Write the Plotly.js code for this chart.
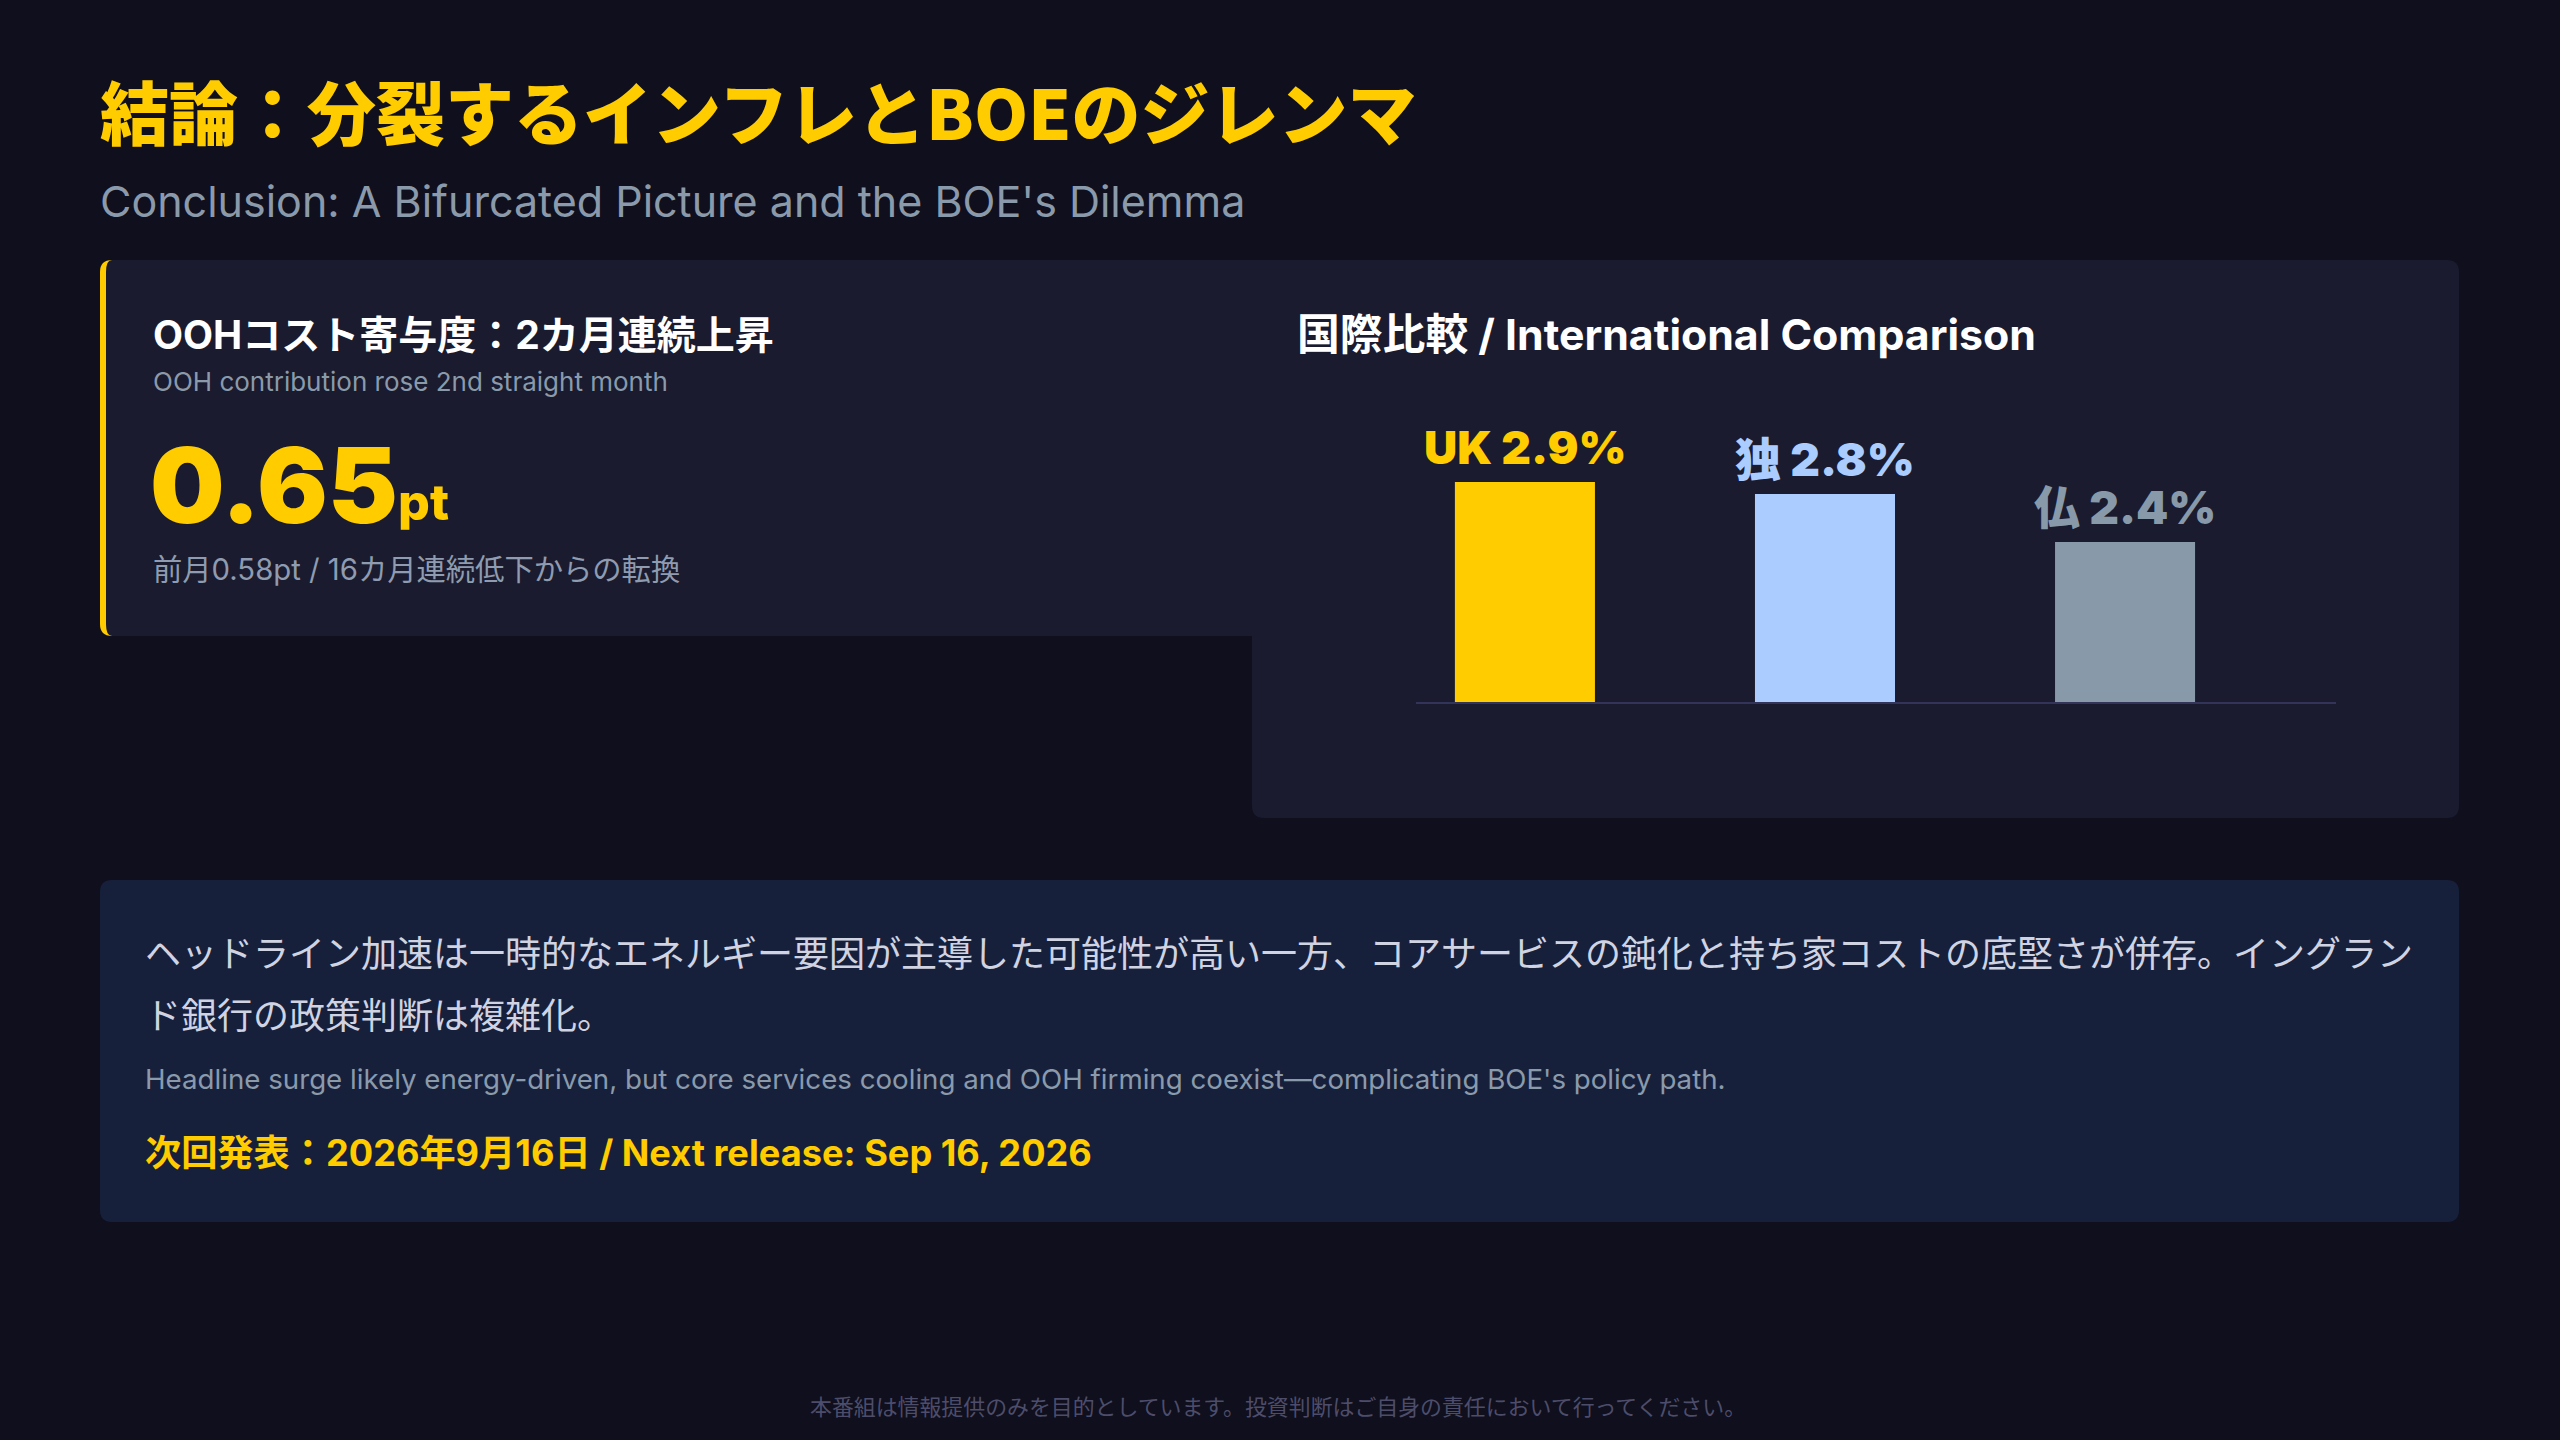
<!DOCTYPE html>
<html>
<head>
<meta charset="utf-8">
<script src="https://cdn.plot.ly/plotly-3.0.1.min.js"></script>
<style>
  html, body { margin: 0; padding: 0; background: #0f0f1d; }
  #chart { width: 2560px; height: 1440px; }
</style>
</head>
<body>
<div id="chart"></div>
<script>
// ---- data ----
const countries = ['UK', '独', '仏'];
const cpiValues = [2.9, 2.8, 2.4];
const barColors = ['#ffcc00', '#aaccff', '#8899aa'];

const titleJa = '結論：分裂するインフレとBOEのジレンマ';
const titleEn = 'Conclusion: A Bifurcated Picture and the BOE\'s Dilemma';
const kpiHeading = 'OOHコスト寄与度：2カ月連続上昇';
const kpiSub = 'OOH contribution rose 2nd straight month';
const kpiValue = 0.65;
const kpiUnit = 'pt';
const kpiNote = '前月0.58pt / 16カ月連続低下からの転換';
const chartHeading = '国際比較 / International Comparison';
const summaryLines = [
  'ヘッドライン加速は一時的なエネルギー要因が主導した可能性が高い一方、コアサービスの鈍化と持ち家コストの底堅さが併存。イングラン',
  'ド銀行の政策判断は複雑化。'
];
const summaryEn = 'Headline surge likely energy-driven, but core services cooling and OOH firming coexist—complicating BOE\'s policy path.';
const nextRelease = '次回発表：2026年9月16日 / Next release: Sep 16, 2026';
const disclaimer = '本番組は情報提供のみを目的としています。投資判断はご自身の責任において行ってください。';

// ---- layout helpers (pixel -> paper) ----
const W = 2560, H = 1440;
const X = px => px / W;
const Y = py => 1 - py / H;

function rrect(x0, y0, x1, y1, c) {
  // c: [tl, tr, br, bl] each [rx, ry]
  const [tl, tr, br, bl] = c;
  const p = (x, y) => X(x) + ',' + Y(y);
  return 'M' + p(x0 + tl[0], y0) +
    ' L' + p(x1 - tr[0], y0) +
    ' Q' + p(x1, y0) + ' ' + p(x1, y0 + tr[1]) +
    ' L' + p(x1, y1 - br[1]) +
    ' Q' + p(x1, y1) + ' ' + p(x1 - br[0], y1) +
    ' L' + p(x0 + bl[0], y1) +
    ' Q' + p(x0, y1) + ' ' + p(x0, y1 - bl[1]) +
    ' L' + p(x0, y0 + tl[1]) +
    ' Q' + p(x0, y0) + ' ' + p(x0 + tl[0], y0) + ' Z';
}

const R = 12;
const sq = [0, 0], rd = [R, R];
const shapes = [
  // right card (chart)
  { type: 'path', xref: 'paper', yref: 'paper', layer: 'below',
    path: rrect(1252, 260, 2459, 818, [sq, rd, rd, rd]),
    fillcolor: '#1a1b2e', line: { width: 0 } },
  // left card yellow border
  { type: 'path', xref: 'paper', yref: 'paper', layer: 'below',
    path: rrect(100, 260, 1253, 636, [rd, sq, sq, rd]),
    fillcolor: '#ffcc00', line: { width: 0 } },
  // left card body
  { type: 'path', xref: 'paper', yref: 'paper', layer: 'below',
    path: rrect(106, 260, 1253, 636, [[6, 12], sq, sq, [6, 12]]),
    fillcolor: '#1a1b2e', line: { width: 0 } },
  // bottom summary card
  { type: 'path', xref: 'paper', yref: 'paper', layer: 'below',
    path: rrect(100, 880, 2459, 1222, [rd, rd, rd, rd]),
    fillcolor: '#17203b', line: { width: 0 } }
];

const SANS = 'Inter, "Noto Sans CJK JP", sans-serif';
const CJK = '"Noto Sans CJK JP", Inter, sans-serif';

function txt(text, x, y, size, color, opts) {
  opts = opts || {};
  return {
    text: text, xref: 'paper', yref: 'paper', x: X(x), y: Y(y),
    xanchor: opts.xanchor || 'left', yanchor: 'middle', showarrow: false,
    font: { family: opts.family || SANS, size: size, color: color, weight: opts.weight || 400 }
  };
}

const annotations = [
  txt(titleJa, 98, 110, 69, '#ffcc00', { weight: 900, family: CJK }),
  txt(titleEn, 98, 201, 43, '#8a9aab'),
  txt(kpiHeading, 151, 334, 39, '#ffffff', { weight: 700 }),
  txt(kpiSub, 151, 381, 26, '#8a9aab'),
  txt(kpiValue.toFixed(2), 148, 484, 105, '#ffcc00', { weight: 900 }),
  txt(kpiUnit, 396, 502, 50, '#ffcc00', { weight: 800 }),
  txt(kpiNote, 151, 570, 29.3, '#8f9bb0'),
  txt(chartHeading, 1295, 334, 42.8, '#ffffff', { weight: 700 }),
  txt(summaryLines[0], 143, 954, 36, '#d0d3e2'),
  txt(summaryLines[1], 143, 1016, 36, '#d0d3e2'),
  txt(summaryEn, 143, 1079, 27.7, '#8a9aab'),
  txt(nextRelease, 143, 1153, 36.2, '#ffcc00', { weight: 700 }),
  txt(disclaimer, 1278, 1407, 21.9, '#4d4d6b', { xanchor: 'center' })
];

// bar value labels
countries.forEach((c, i) => {
  annotations.push({
    text: c + ' ' + cpiValues[i].toFixed(1) + '%',
    xref: 'x', yref: 'y', x: c, y: cpiValues[i],
    xanchor: 'center', yanchor: 'bottom', yshift: 5, showarrow: false,
    font: { family: SANS, size: 46, color: barColors[i], weight: 900 }
  });
});

const trace = {
  type: 'bar',
  x: countries,
  y: cpiValues,
  marker: { color: barColors, line: { width: 0 } },
  width: 0.4667,
  hoverinfo: 'skip'
};

const layout = {
  width: W, height: H,
  margin: { l: 0, r: 0, t: 0, b: 0, pad: 0 },
  paper_bgcolor: '#0f0f1d',
  plot_bgcolor: 'rgba(0,0,0,0)',
  showlegend: false,
  xaxis: {
    domain: [X(1416), X(2336)],
    type: 'category',
    range: [-0.363, 2.703],
    showgrid: false, zeroline: false,
    showticklabels: false, ticks: '',
    showline: true, linecolor: '#33345a', linewidth: 2,
    fixedrange: true
  },
  yaxis: {
    domain: [Y(702), Y(420)],
    range: [1.067, 1.067 + (702 - 420) / 120],
    visible: false, showgrid: false, zeroline: false,
    fixedrange: true
  },
  shapes: shapes,
  annotations: annotations
};

Plotly.newPlot('chart', [trace], layout, { staticPlot: true, displayModeBar: false });
</script>
</body>
</html>
